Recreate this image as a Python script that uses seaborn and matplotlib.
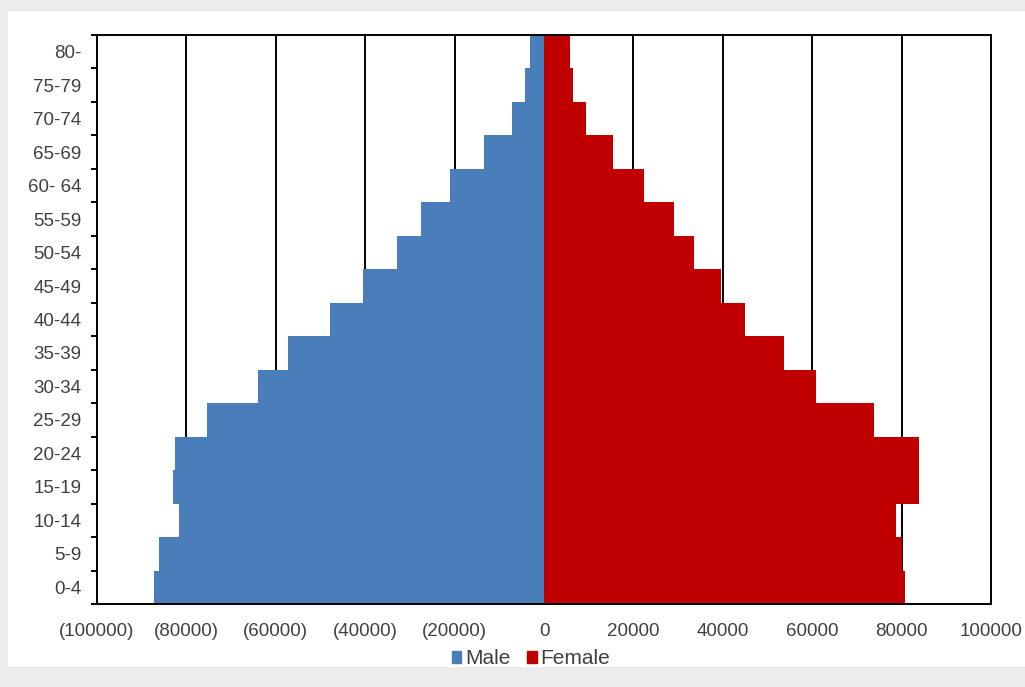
import matplotlib
matplotlib.use("Agg")
import matplotlib.pyplot as plt
import matplotlib.patches as mpatches
from matplotlib.ticker import FuncFormatter, FixedLocator
import numpy as np
import pandas as pd
import seaborn as sns

# Age groups, youngest first
age_groups = ["0-4", "5-9", "10-14", "15-19", "20-24", "25-29", "30-34", "35-39",
              "40-44", "45-49", "50-54", "55-59", "60- 64", "65-69", "70-74",
              "75-79", "80-"]
male = [87300, 86100, 81700, 83000, 82500, 75500, 64000, 57200,
        47900, 40400, 32800, 27600, 21000, 13400, 7200, 4300, 3100]
female = [80700, 80100, 78700, 84000, 84000, 73800, 60800, 53600,
          45000, 39500, 33600, 29000, 22300, 15400, 9300, 6500, 5800]
x_ticks = list(range(-100000, 100001, 20000))

sns.set_theme(style="white")
plt.rcParams["font.family"] = ["Liberation Sans", "DejaVu Sans"]

text_color = "#404040"
male_color = "#4a7ebb"
female_color = "#c00000"

df = pd.DataFrame({
    "age": age_groups * 2,
    "sex": ["Male"] * len(age_groups) + ["Female"] * len(age_groups),
    "pop": [-v for v in male] + female,
})
order = age_groups[::-1]  # oldest at the top

fig = plt.figure(figsize=(10.25, 6.87), dpi=100, facecolor="#ececec")
# white chart area on the light grey page
fig.patches.append(mpatches.Rectangle((8 / 1025, 20 / 687), 1, 656 / 687,
                                      transform=fig.transFigure, facecolor="white",
                                      edgecolor="none", zorder=-10))
ax = fig.add_axes([97 / 1025, 1 - 604 / 687, (991 - 97) / 1025, (604 - 35) / 687])
ax.set_zorder(2)
ax.set_facecolor("white")

sns.barplot(data=df, x="pop", y="age", hue="sex", order=order,
            hue_order=["Male", "Female"], palette=[male_color, female_color],
            dodge=False, width=1.0, orient="h", linewidth=0, saturation=1,
            legend=False, ax=ax, zorder=3)

ax.set_xlim(-100000, 100000)
ax.set_ylim(len(order) - 0.5, -0.5)
ax.set_xticks(x_ticks)
ax.xaxis.set_major_formatter(FuncFormatter(
    lambda v, _: f"({abs(int(v))})" if v < 0 else f"{int(v)}"))
ax.set_xlabel("")
ax.set_ylabel("")

# vertical black gridlines behind the bars
ax.set_axisbelow(True)
ax.grid(axis="x", color="black", linewidth=1.4)
ax.grid(axis="y", visible=False)

for s in ax.spines.values():
    s.set_visible(True)
    s.set_color("black")
    s.set_linewidth(1.4)
    s.set_zorder(5)

ax.tick_params(axis="x", length=0, pad=14, labelsize=13.5, labelcolor=text_color)
ax.tick_params(axis="y", which="major", length=0, pad=11, labelsize=13.5,
               labelcolor=text_color)
# small outward ticks at the boundaries between age groups
ax.yaxis.set_minor_locator(FixedLocator(np.arange(-0.5, len(order), 1.0)))
ax.tick_params(axis="y", which="minor", left=True, length=4, width=1.4,
               color="black", direction="out")

handles = [mpatches.Patch(color=male_color, label="Male"),
           mpatches.Patch(color=female_color, label="Female")]
fig.legend(handles=handles, loc="center", bbox_to_anchor=(531 / 1025, 1 - 659 / 687),
           ncol=2, frameon=False, fontsize=15, labelcolor=text_color,
           handlelength=0.45, handleheight=0.5, handletextpad=0.2,
           columnspacing=0.8)

fig.savefig("out.png", dpi=100, facecolor=fig.get_facecolor())
